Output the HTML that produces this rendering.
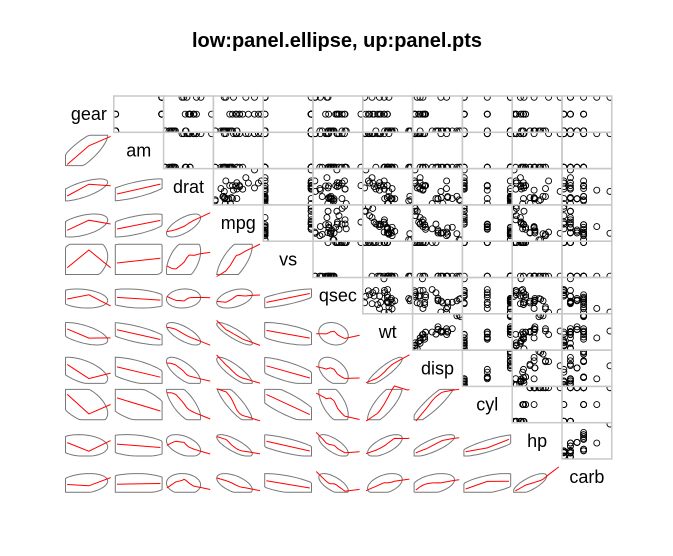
<!DOCTYPE html>
<html><head><meta charset="utf-8"><style>
body{margin:0;background:#fff;}
svg{display:block;font-family:"Liberation Sans",sans-serif;}
</style></head><body>
<svg id="chart" width="673" height="556">
<text x="337" y="47" text-anchor="middle" font-size="20" font-weight="bold">low:panel.ellipse, up:panel.pts</text>
<g id="panels"></g>
</svg>
<script>
const varNames = ["gear","am","drat","mpg","vs","qsec","wt","disp","cyl","hp","carb"];
const mpg = [21,21,22.8,21.4,18.7,18.1,14.3,24.4,22.8,19.2,17.8,16.4,17.3,15.2,10.4,10.4,14.7,32.4,30.4,33.9,21.5,15.5,15.2,13.3,19.2,27.3,26,30.4,15.8,19.7,15,21.4];
const cyl = [6,6,4,6,8,6,8,4,4,6,6,8,8,8,8,8,8,4,4,4,4,8,8,8,8,4,4,4,8,6,8,4];
const disp = [160,160,108,258,360,225,360,146.7,140.8,167.6,167.6,275.8,275.8,275.8,472,460,440,78.7,75.7,71.1,120.1,318,304,350,400,79,120.3,95.1,351,145,301,121];
const hp = [110,110,93,110,175,105,245,62,95,123,123,180,180,180,205,215,230,66,52,65,97,150,150,245,175,66,91,113,264,175,335,109];
const drat = [3.9,3.9,3.85,3.08,3.15,2.76,3.21,3.69,3.92,3.92,3.92,3.07,3.07,3.07,2.93,3,3.23,4.08,4.93,4.22,3.7,2.76,3.15,3.73,3.08,4.08,4.43,3.77,4.22,3.62,3.54,4.11];
const wt = [2.62,2.875,2.32,3.215,3.44,3.46,3.57,3.19,3.15,3.44,3.44,4.07,3.73,3.78,5.25,5.424,5.345,2.2,1.615,1.835,2.465,3.52,3.435,3.84,3.845,1.935,2.14,1.513,3.17,2.77,3.57,2.78];
const qsec = [16.46,17.02,18.61,19.44,17.02,20.22,15.84,20,22.9,18.3,18.9,17.4,17.6,18,17.98,17.82,17.42,19.47,18.52,19.9,20.01,16.87,17.3,15.41,17.05,18.9,16.7,16.9,14.5,15.5,14.6,18.6];
const vs = [0,0,1,1,0,1,0,1,1,1,1,0,0,0,0,0,0,1,1,1,1,0,0,0,0,1,0,1,0,0,0,1];
const am = [1,1,1,0,0,0,0,0,0,0,0,0,0,0,0,0,0,1,1,1,0,0,0,0,0,1,1,1,1,1,1,1];
const gear = [4,4,4,3,3,3,3,4,4,4,4,3,3,3,3,3,3,4,4,4,3,3,3,3,3,4,5,5,5,5,5,4];
const carb = [4,4,1,1,2,1,4,2,2,4,4,3,3,3,4,4,4,1,2,1,1,2,2,4,2,1,2,2,4,6,8,2];
const cols = {gear,am,drat,mpg,vs,qsec,wt,disp,cyl,hp,carb};

const NS="http://www.w3.org/2000/svg";
const G=document.getElementById('panels');
const X0=64, Y0=96, CW=49.8, CH=36.3, N=varNames.length;
function mk(t,a,p){const e=document.createElementNS(NS,t);for(const k in a)e.setAttribute(k,a[k]);(p||G).appendChild(e);return e;}
function mean(a){return a.reduce((s,v)=>s+v,0)/a.length;}
function sd(a){const m=mean(a);return Math.sqrt(a.reduce((s,v)=>s+(v-m)*(v-m),0)/(a.length-1));}
function cor(a,b){const ma=mean(a),mb=mean(b);let s=0;for(let i=0;i<a.length;i++)s+=(a[i]-ma)*(b[i]-mb);return s/(a.length-1)/sd(a)/sd(b);}
function lowess(x,y){
  const n=x.length,f=2/3,r=Math.max(2,Math.ceil(f*n));
  const ux=[...new Set(x)].sort((a,b)=>a-b);
  return ux.map(x0=>{
    const d=x.map(v=>Math.abs(v-x0));const h=[...d].sort((a,b)=>a-b)[r-1]||1e-9;
    let sw=0,sx=0,sy=0,sxx=0,sxy=0;
    for(let i=0;i<n;i++){let u=d[i]/(h*1.0000001);let w=u<1?Math.pow(1-u*u*u,3):0;
      sw+=w;sx+=w*x[i];sy+=w*y[i];sxx+=w*x[i]*x[i];sxy+=w*x[i]*y[i];}
    const mx=sx/sw,my=sy/sw,vx=sxx/sw-mx*mx;
    const b=vx>1e-12?(sxy/sw-mx*my)/vx:0;
    return [x0,my+b*(x0-mx)];
  });
}
const defs=mk('defs',{});
for(let i=0;i<N;i++){for(let j=0;j<N;j++){
  const cx=X0+j*CW, cy=Y0+i*CH;
  const xv=cols[varNames[j]], yv=cols[varNames[i]];
  const xmin=Math.min(...xv),xmax=Math.max(...xv),ymin=Math.min(...yv),ymax=Math.max(...yv);
  const xr=(xmax-xmin)||1,yr=(ymax-ymin)||1;
  if(i===j){
    const t=mk('text',{x:cx+CW/2,y:cy+CH/2+6,'text-anchor':'middle','font-size':'18',fill:'#000'});
    t.textContent=varNames[i];
    
    
  } else if(j>i){
    const cp=mk('clipPath',{id:'c'+i+'_'+j},defs);mk('rect',{x:cx,y:cy,width:CW,height:CH},cp);
    const g=mk('g',{'clip-path':'url(#c'+i+'_'+j+')'});
    
    
    const sx=v=>cx+CW*((v-xmin+0.04*xr)/(1.08*xr));
    const sy=v=>cy+CH-CH*((v-ymin+0.04*yr)/(1.08*yr));
    for(let k=0;k<xv.length;k++){
      const c=mk('circle',{cx:sx(xv[k]),cy:sy(yv[k]),r:3,fill:'none',stroke:'#000','stroke-width':0.9},g);
      
      
    }
    const b=mk('rect',{x:cx,y:cy,width:CW,height:CH,fill:'none',stroke:'#c8c8c8','stroke-width':1.5});
    
    
  } else {
    const g=mk('g',{});
    
    
    const r=cor(xv,yv),mx=mean(xv),my=mean(yv),sdx=sd(xv),sdy=sd(yv),rad=1.6;
    const dd=Math.acos(Math.max(-1,Math.min(1,r)));
    const pts=[];for(let k=0;k<=60;k++){const t=k/60*2*Math.PI;pts.push([mx+rad*sdx*Math.cos(t+dd/2),my+rad*sdy*Math.cos(t-dd/2)]);}
    const IX=1.5, IY=3;
    const px=v=>cx+IX+(CW-2*IX)*((v-xmin+0.04*xr)/(1.08*xr));
    const py=v=>cy+CH-IY-(CH-2*IY)*((v-ymin+0.04*yr)/(1.08*yr));
    const e=mk('polygon',{points:pts.map(p=>{
      let X=px(p[0]),Y=py(p[1]);
      X=Math.max(cx+IX,Math.min(cx+CW-IX,X));Y=Math.max(cy+IY,Math.min(cy+CH-IY,Y));
      return X.toFixed(1)+','+Y.toFixed(1);}).join(' '),fill:'none',stroke:'#777','stroke-width':1},g);
    
    
    const lw=lowess(xv,yv);
    const l=mk('polyline',{points:lw.map(p=>px(p[0]).toFixed(1)+','+py(p[1]).toFixed(1)).join(' '),fill:'none',stroke:'#f00','stroke-width':1},g);
    
    
  }
}}
</script>
</body></html>
